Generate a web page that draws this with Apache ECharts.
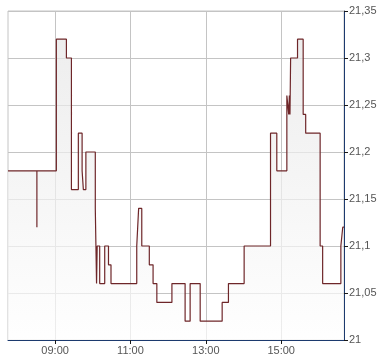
<!DOCTYPE html>
<html>
<head>
<meta charset="utf-8">
<script src="https://cdn.jsdelivr.net/npm/echarts@6/dist/echarts.min.js"></script>
<style>
html,body{margin:0;padding:0;background:#fff;}
#chart{width:390px;height:364px;}
</style>
</head>
<body>
<div id="chart"></div>
<script>
// Time of each price change (HH:MM) and the price from that time on
var times = ["07:45","08:31","08:31","09:02","09:18","09:26","09:37","09:43","09:45","09:49","10:04","10:06","10:07","10:11","10:19","10:25","10:29","11:10","11:13","11:18","11:30","11:36","11:42","12:06","12:27","12:35","12:51","13:26","13:36","14:01","14:43","14:53","15:09","15:12","15:13","15:14","15:15","15:26","15:35","15:39","16:02","16:06","16:35","16:38","16:40"];
var prices = [21.18,21.12,21.18,21.32,21.30,21.16,21.22,21.18,21.16,21.20,21.14,21.06,21.10,21.06,21.10,21.08,21.06,21.10,21.14,21.10,21.08,21.06,21.04,21.06,21.02,21.06,21.02,21.04,21.06,21.10,21.22,21.18,21.26,21.24,21.26,21.24,21.30,21.32,21.24,21.22,21.10,21.06,21.10,21.12,21.12];
var xTickLabels = ["09:00","11:00","13:00","15:00"];
var axisStart = "07:45", axisEnd = "16:40";
var yMin = 21, yMax = 21.35, yStep = 0.05;

function toMin(s){ var p = s.split(":"); return (+p[0])*60 + (+p[1]); }
function fmtTime(m){ var h = Math.floor(m/60), mm = Math.round(m%60); return (h<10?"0":"")+h+":"+(mm<10?"0":"")+mm; }

var seriesData = times.map(function(t,i){ return [toMin(t), prices[i]]; });
var xTicks = xTickLabels.map(toMin);

var chart = echarts.init(document.getElementById('chart'), null, {renderer:'canvas'});
chart.setOption({
  animation: false,
  backgroundColor: '#ffffff',
  grid: {left: 8, right: 46, top: 11, bottom: 24, show: true, borderColor: '#c4c4c4', borderWidth: 1, backgroundColor: 'transparent'},
  xAxis: {
    type: 'value', min: toMin(axisStart), max: toMin(axisEnd),
    axisLine: {show: true, onZero: false, lineStyle: {color: '#1c3a6e', width: 1}},
    axisTick: {show: true, length: 4, customValues: xTicks, lineStyle: {color: '#1a1a1a'}},
    axisLabel: {customValues: xTicks, color: '#555555', fontSize: 11, fontFamily: 'Liberation Sans, Arial, sans-serif', margin: 5, formatter: function(v){ return fmtTime(v); }},
    splitLine: {show: true, lineStyle: {color: '#c4c4c4', width: 1}}
  },
  yAxis: {
    type: 'value', position: 'right', min: yMin, max: yMax, interval: yStep,
    axisLine: {show: true, lineStyle: {color: '#1c3a6e', width: 1}},
    axisTick: {show: true, length: 4, lineStyle: {color: '#1a1a1a'}},
    axisLabel: {color: '#555555', fontSize: 11, fontFamily: 'Liberation Sans, Arial, sans-serif', margin: 5,
      formatter: function(v){ return String(parseFloat(v.toFixed(2))).replace('.', ','); }},
    splitLine: {show: true, lineStyle: {color: '#c4c4c4', width: 1}}
  },
  series: [{
    type: 'line', step: 'end', data: seriesData, symbol: 'none',
    lineStyle: {color: '#6e2629', width: 1.2},
    areaStyle: {origin: 'start', color: new echarts.graphic.LinearGradient(0,0,0,1,[{offset:0,color:'#e6e6e6'},{offset:1,color:'#fefefe'}])}
  }]
});
</script>
</body>
</html>
